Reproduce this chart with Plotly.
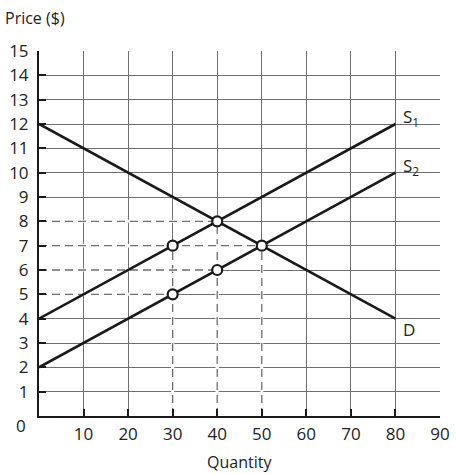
import plotly.graph_objects as go

# Curve end points (quantity, price)
quantity_ends = [0, 80]
demand = [12, 4]
supply_1 = [4, 12]
supply_2 = [2, 10]

# Marked points on the curves
point_q = [30, 40, 30, 40, 50]
point_p = [7, 8, 5, 6, 7]

# Axis ticks
x_ticks = [10, 20, 30, 40, 50, 60, 70, 80, 90]
y_ticks = list(range(1, 16))

font_family = "Open Sans, sans-serif"
text_color = "#222"
grid_color = "#6f6f6f"
dash_color = "#6e6e6e"

fig = go.Figure()

# Dashed guide lines from each point to the axes (white underlay hides the grid)
for q, p in zip(point_q, point_p):
    for xs, ys in (([0, q], [p, p]), ([q, q], [0, p])):
        fig.add_trace(go.Scatter(x=xs, y=ys, mode="lines",
                                 line=dict(color="white", width=3),
                                 hoverinfo="skip"))
        fig.add_trace(go.Scatter(x=xs, y=ys, mode="lines",
                                 line=dict(color=dash_color, width=1.3, dash="8px,5px"),
                                 hoverinfo="skip"))

# Demand and supply curves
for ys in (demand, supply_1, supply_2):
    fig.add_trace(go.Scatter(x=quantity_ends, y=ys, mode="lines",
                             line=dict(color="#1a1a1a", width=2.6)))

# Open circles
fig.add_trace(go.Scatter(x=point_q, y=point_p, mode="markers",
                         marker=dict(size=10, color="white",
                                     line=dict(color="#1a1a1a", width=2.2))))

# Curve labels
labels = [("S<sub>1</sub>", supply_1[-1] + 0.25), ("S<sub>2</sub>", supply_2[-1] + 0.25),
          ("D", demand[-1] - 0.45)]
for text, y in labels:
    fig.add_annotation(x=quantity_ends[-1] + 1.3, y=y, text=text, showarrow=False,
                       xanchor="left", font=dict(size=17, color=text_color))

fig.add_annotation(x=0, y=0, xref="x", yref="y", text="0", showarrow=False,
                   xanchor="right", xshift=-11, yshift=-9,
                   font=dict(size=17, color=text_color))

fig.add_annotation(x=-0.09, y=1.09, xref="paper", yref="paper", text="Price ($)",
                   showarrow=False, xanchor="left", yanchor="middle",
                   font=dict(size=16, color=text_color))

fig.add_annotation(x=0.5, y=-0.126, xref="paper", yref="paper", text="Quantity",
                   showarrow=False, xanchor="center", yanchor="middle",
                   font=dict(size=16, color=text_color))

fig.update_layout(
    width=456, height=474,
    margin=dict(l=39, r=16, t=51, b=58),
    showlegend=False,
    plot_bgcolor="white", paper_bgcolor="white",
    font=dict(family=font_family, size=17, color=text_color),
    xaxis=dict(range=[0, 90], tickvals=x_ticks, showgrid=True, gridcolor=grid_color,
               gridwidth=1, zeroline=False, showline=True, linecolor="#1a1a1a",
               linewidth=2, ticks="inside", ticklen=7, tickcolor="#1a1a1a",
               tickwidth=1.5, tickfont=dict(size=17), ticklabelstandoff=2,
               automargin=False, fixedrange=True),
    yaxis=dict(range=[0, 15], tickvals=y_ticks, showgrid=True, gridcolor=grid_color,
               gridwidth=1, zeroline=False, showline=True, linecolor="#1a1a1a",
               linewidth=2, ticks="inside", ticklen=7, tickcolor="#1a1a1a",
               tickwidth=1.5, tickfont=dict(size=17), ticklabelstandoff=5,
               automargin=False, fixedrange=True),
)

# drop the default page margin so the figure fills the window
fig.write_html("out.html", config={"displayModeBar": False},
               post_script="document.body.style.margin = '0';")
